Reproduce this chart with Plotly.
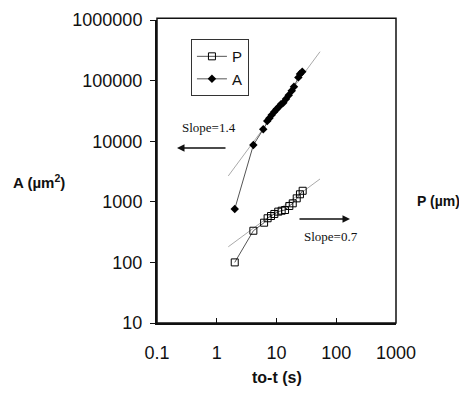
import plotly.graph_objects as go

# Data
t_A = [2.0, 4.1, 6.0, 7.0, 7.6, 8.3, 9.2, 10.0, 11.0, 11.9, 13.0, 14.4, 16.0, 18.0, 19.6, 23.2, 24.7, 27.0]
A_vals = [760, 8650, 15700, 21500, 23900, 27000, 30700, 33600, 37200, 40600, 43200, 49700, 57200, 68000, 79300, 113000, 128000, 140000]

t_P = [2.0, 4.1, 6.2, 7.1, 8.1, 9.2, 10.7, 12.2, 13.9, 16.4, 18.7, 21.8, 24.7, 27.4]
P_vals = [100, 333, 452, 535, 583, 630, 688, 713, 732, 853, 944, 1140, 1330, 1520]

fit_t = [1.56, 53.5]
A_fit = [2670, 300000]
P_fit = [181, 2380]

x_tickvals = [0.1, 1, 10, 100, 1000]
x_ticktext = ["0.1", "1", "10", "100", "1000"]
y_tickvals = [10, 100, 1000, 10000, 100000, 1000000]
y_ticktext = ["10", "100", "1000", "10000", "100000", "1000000"]

SANS = "Arial, Liberation Sans, sans-serif"
SERIF = "Times New Roman, Liberation Serif, serif"

fig = go.Figure()
fig.add_trace(go.Scatter(x=fit_t, y=A_fit, mode="lines", line=dict(color="#aaaaaa", width=1),
                         showlegend=False, hoverinfo="skip"))
fig.add_trace(go.Scatter(x=fit_t, y=P_fit, mode="lines", line=dict(color="#aaaaaa", width=1),
                         showlegend=False, hoverinfo="skip"))
fig.add_trace(go.Scatter(x=t_P, y=P_vals, mode="lines+markers", name="P",
                         line=dict(color="#555555", width=1),
                         marker=dict(symbol="square-open", size=7, color="black", line=dict(width=1))))
fig.add_trace(go.Scatter(x=t_A, y=A_vals, mode="lines+markers", name="A",
                         line=dict(color="#555555", width=1),
                         marker=dict(symbol="diamond", size=6.5, color="black")))

fig.update_xaxes(type="log", range=[-1, 3], tickvals=x_tickvals, ticktext=x_ticktext,
                 showgrid=False, zeroline=False, showline=True, linecolor="#111", linewidth=2,
                 ticks="inside", ticklen=5, tickcolor="#111", tickwidth=1, automargin=False,
                 tickfont=dict(family=SANS, size=18, color="#111"), ticklabelstandoff=12)
fig.update_yaxes(type="log", range=[1, 6], tickvals=y_tickvals, ticktext=y_ticktext,
                 showgrid=False, zeroline=False, showline=True, linecolor="#111", linewidth=2,
                 ticks="outside", ticklen=5, tickcolor="#111", tickwidth=1, automargin=False,
                 tickfont=dict(family=SANS, size=18, color="#111"), ticklabelstandoff=4)

fig.add_shape(type="rect", xref="x domain", yref="y domain", x0=0, x1=1, y0=0, y1=1.006,
              line=dict(color="#111", width=1.5), layer="above")

def label(x, y, text, family, size):
    fig.add_annotation(x=x, y=y, xref="paper", yref="paper", showarrow=False,
                       xanchor="center", yanchor="middle", text=text,
                       font=dict(family=family, size=size, color="#111"))

label(-0.494, 0.4686, "<b>A (µm<sup>2</sup>)</b>", SANS, 15)
label(1.176, 0.4026, "<b>P (µm)</b>", SANS, 14)
label(0.502, -0.1815, "<b>to-t (s)</b>", SANS, 16)
label(0.2176, 0.6436, "Slope=1.4", SERIF, 13)
label(0.728, 0.287, "Slope=0.7", SERIF, 13)

fig.add_annotation(x=0.0837, y=0.5776, xref="paper", yref="paper", text="", showarrow=True,
                   axref="pixel", ayref="pixel", ax=50, ay=0, arrowhead=2, arrowsize=1,
                   arrowwidth=1.5, arrowcolor="#111")
fig.add_annotation(x=0.8075, y=0.343, xref="paper", yref="paper", text="", showarrow=True,
                   axref="pixel", ayref="pixel", ax=-52, ay=0, arrowhead=2, arrowsize=1,
                   arrowwidth=1.5, arrowcolor="#111")

# page body adds an 8px offset; margins compensate so the plot area lands at x 157-396, y 20-323
fig.update_layout(
    width=467, height=393,
    margin=dict(l=149, r=79, t=12, b=78, autoexpand=False),
    paper_bgcolor="white", plot_bgcolor="white",
    legend=dict(x=0.142, y=0.937, xanchor="left", yanchor="top",
                bordercolor="#333", borderwidth=1, bgcolor="white",
                font=dict(family=SANS, size=15, color="#111"),
                itemwidth=30, tracegroupgap=0),
)

fig.write_html("out.html")
